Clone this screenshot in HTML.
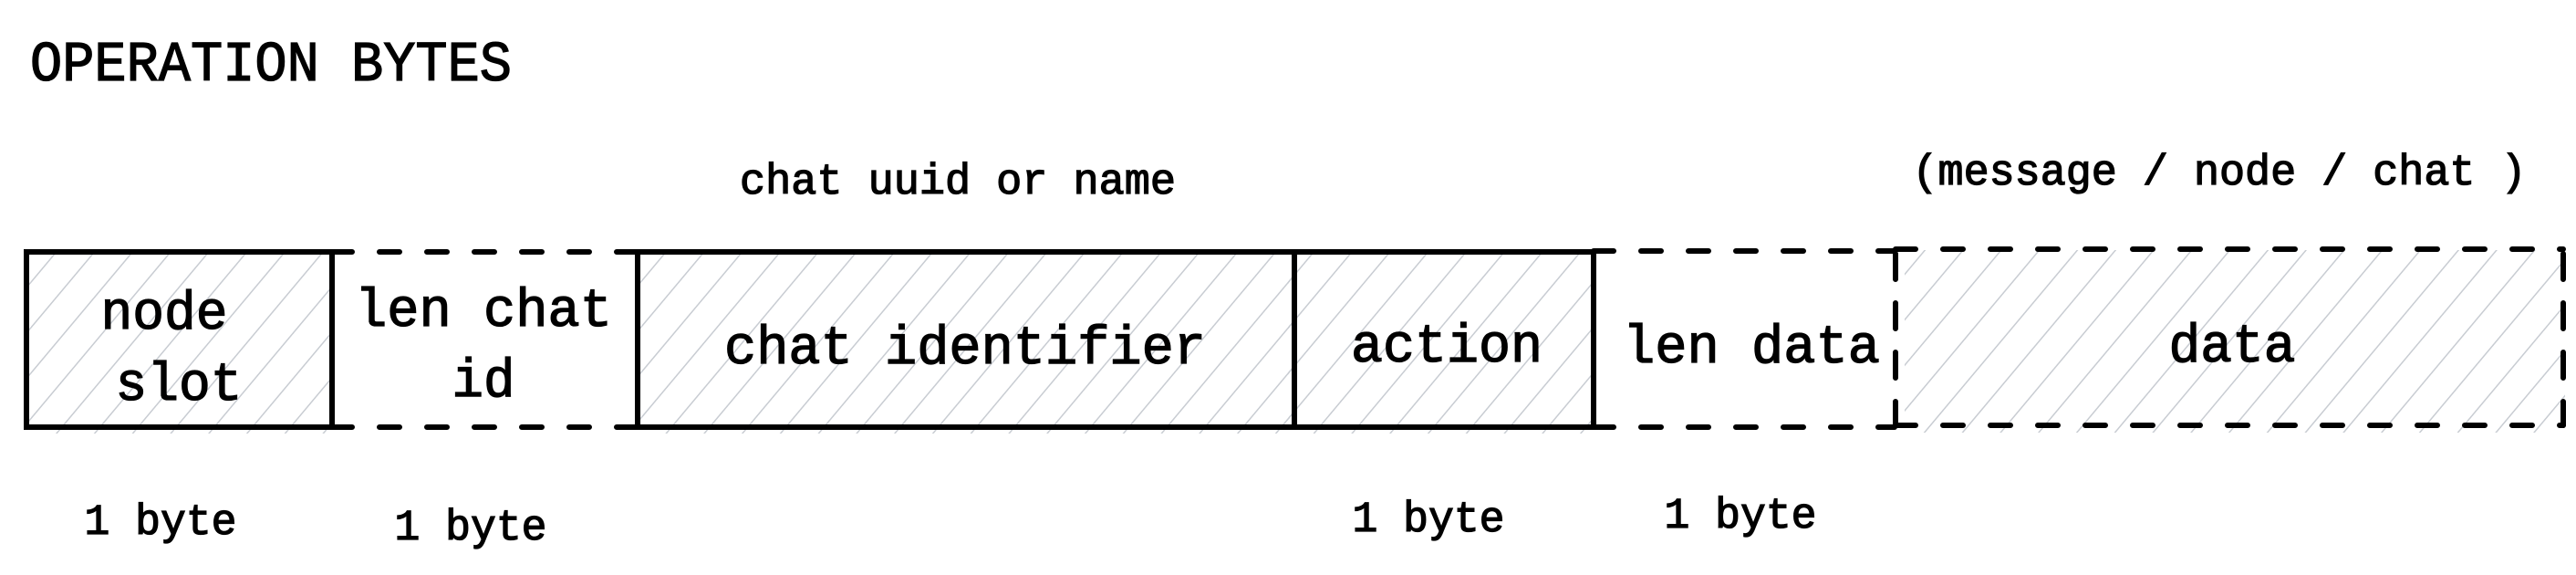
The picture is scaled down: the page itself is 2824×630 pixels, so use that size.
<!DOCTYPE html>
<html><head><meta charset="utf-8"><style>
html,body{margin:0;padding:0;background:#fff;}
svg{display:block}
text{font-family:"Liberation Mono","DejaVu Sans Mono",monospace;fill:#000;stroke:#000;stroke-width:1.3px;}
</style></head><body>
<svg width="2824" height="630" viewBox="0 0 2824 630" xmlns="http://www.w3.org/2000/svg">
<defs>
<pattern id="h" patternUnits="userSpaceOnUse" width="32" height="32" patternTransform="rotate(40)">
<line x1="0" y1="0" x2="0" y2="32" stroke="#c8ccd2" stroke-width="3"/>
</pattern>
</defs>
<rect x="29" y="275" width="335" height="200" fill="url(#h)"/>
<rect x="699" y="275" width="720" height="200" fill="url(#h)"/>
<rect x="1412" y="275" width="335" height="200" fill="url(#h)"/>
<rect x="2088" y="274" width="724" height="200" fill="url(#h)"/>

<g stroke="#000" stroke-width="6" fill="none" stroke-linecap="round">
<rect x="29" y="276" width="335" height="192"/>
<line x1="364" y1="276" x2="697" y2="276" stroke-dasharray="22 30"/>
<line x1="364" y1="468" x2="697" y2="468" stroke-dasharray="22 30"/>
<rect x="699" y="276" width="720" height="192"/>
<rect x="1419" y="276" width="328" height="192"/>
<line x1="1747" y1="275" x2="2077" y2="275" stroke-dasharray="22 30"/>
<line x1="1747" y1="468" x2="2077" y2="468" stroke-dasharray="22 30"/>
<line x1="2078" y1="273" x2="2810" y2="273" stroke-dasharray="22 30"/>
<line x1="2078" y1="466" x2="2810" y2="466" stroke-dasharray="22 30"/>
<line x1="2078" y1="278" x2="2078" y2="466" stroke-dasharray="28 26"/>
<line x1="2810" y1="278" x2="2810" y2="466" stroke-dasharray="28 26"/>
</g>

<text x="33" y="88" font-size="62" textLength="528" lengthAdjust="spacingAndGlyphs">OPERATION BYTES</text>
<text x="1050" y="212" font-size="47" text-anchor="middle" textLength="478" lengthAdjust="spacingAndGlyphs">chat uuid or name</text>
<text x="2433" y="202" font-size="47" text-anchor="middle" textLength="673" lengthAdjust="spacingAndGlyphs">(message / node / chat )</text>

<g font-size="59" text-anchor="middle">
<text x="180" y="360" textLength="139" lengthAdjust="spacingAndGlyphs">node</text>
<text x="196" y="438" textLength="139" lengthAdjust="spacingAndGlyphs">slot</text>
<text x="530" y="357" textLength="282" lengthAdjust="spacingAndGlyphs">len chat</text>
<text x="530" y="434" textLength="69" lengthAdjust="spacingAndGlyphs">id</text>
<text x="1058" y="398" textLength="528" lengthAdjust="spacingAndGlyphs">chat identifier</text>
<text x="1586" y="396" textLength="210" lengthAdjust="spacingAndGlyphs">action</text>
<text x="1920" y="397" textLength="282" lengthAdjust="spacingAndGlyphs">len data</text>
<text x="2447" y="396" textLength="139" lengthAdjust="spacingAndGlyphs">data</text>
</g>
<g font-size="47" text-anchor="middle">
<text x="176" y="585" textLength="167" lengthAdjust="spacingAndGlyphs">1 byte</text>
<text x="516" y="591" textLength="167" lengthAdjust="spacingAndGlyphs">1 byte</text>
<text x="1566" y="582" textLength="167" lengthAdjust="spacingAndGlyphs">1 byte</text>
<text x="1908" y="578" textLength="167" lengthAdjust="spacingAndGlyphs">1 byte</text>
</g>
</svg>
</body></html>
